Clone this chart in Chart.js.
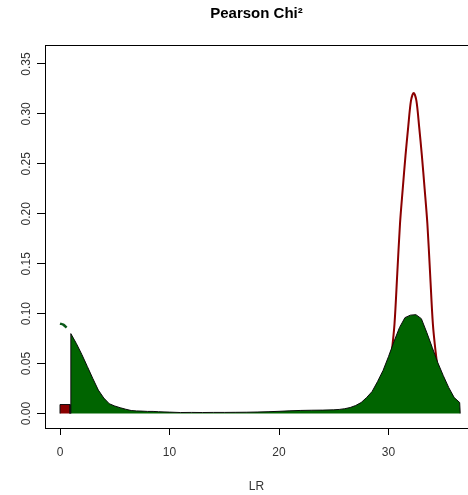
<!DOCTYPE html>
<html><head><meta charset="utf-8">
<script src="https://cdn.jsdelivr.net/npm/chart.js@4"></script>
<style>html,body{margin:0;padding:0;background:#fff;overflow:hidden}canvas{display:block}</style>
</head><body>
<canvas id="c" width="468" height="495"></canvas>
<script>
const chartTitle = 'Pearson Chi²';
const xAxisLabel = 'LR';
const xTickValues = [0, 10, 20, 30];
const xTickLabels = ['0', '10', '20', '30'];
const yTickValues = [0, 0.05, 0.10, 0.15, 0.20, 0.25, 0.30, 0.35];
const yTickLabels = ['0.00', '0.05', '0.10', '0.15', '0.20', '0.25', '0.30', '0.35'];

const greenX = [0.98, 0.99, 1.5, 2.0, 2.5, 3.0, 3.5, 4.0, 4.5, 5.0, 5.5, 6.0, 6.5, 7.0, 7.5, 8.0, 8.5, 9.0, 9.5, 10, 11, 12, 13, 14, 15, 16, 17, 18, 19, 20, 21, 22, 23, 24, 25, 25.5, 26, 26.5, 27, 27.5, 28, 28.5, 29, 29.5, 30, 30.5, 31, 31.5, 32, 32.5, 33, 33.5, 34, 34.5, 35, 35.5, 36, 36.5, 36.55];
const greenY = [0, 0.080, 0.070, 0.059, 0.047, 0.035, 0.0235, 0.0155, 0.0098, 0.0075, 0.0058, 0.0043, 0.0030, 0.0026, 0.0024, 0.0021, 0.0021, 0.0018, 0.0016, 0.0014, 0.0010, 0.0011, 0.0010, 0.0011, 0.0011, 0.0012, 0.0013, 0.0015, 0.0018, 0.0022, 0.0027, 0.0031, 0.0033, 0.0034, 0.0037, 0.0041, 0.0048, 0.0060, 0.0080, 0.011, 0.016, 0.022, 0.032, 0.043, 0.057, 0.072, 0.086, 0.096, 0.0985, 0.099, 0.095, 0.081, 0.066, 0.051, 0.038, 0.026, 0.016, 0.011, 0];

const redX = [28.8, 29.3, 29.55, 29.8, 30.05, 30.3, 30.55, 30.8, 31.05, 31.3, 31.55, 31.8, 32.05, 32.3, 32.55, 32.8, 33.05, 33.3, 33.55, 33.8, 34.05, 34.3, 34.55, 34.8, 35.05, 35.3, 35.8];
const redY = [0.002, 0.009, 0.016, 0.027, 0.041, 0.062, 0.090, 0.140, 0.190, 0.225, 0.258, 0.287, 0.313, 0.321, 0.313, 0.287, 0.258, 0.225, 0.190, 0.140, 0.090, 0.062, 0.041, 0.027, 0.016, 0.009, 0.002];

const dotX = [0.0, 0.3, 0.6];
const dotY = [0.090, 0.089, 0.086];

const squareX = [0, 0.001, 0.92, 0.921];
const squareY = [0, 0.009, 0.009, 0];

const pts = (xs, ys) => xs.map((x, i) => ({x: x, y: ys[i]}));
const FONT = "'Liberation Sans', Arial, Helvetica, sans-serif";

const boxAndLabels = {
  id: 'boxAndLabels',
  afterDraw(chart) {
    const ctx = chart.ctx, a = chart.chartArea, ys = chart.scales.y;
    ctx.save();
    ctx.strokeStyle = '#000';
    ctx.lineWidth = 1;
    ctx.beginPath();
    ctx.moveTo(a.left, Math.round(a.top) + 0.5);
    ctx.lineTo(a.right, Math.round(a.top) + 0.5);
    ctx.stroke();
    ctx.fillStyle = '#333';
    ctx.font = '12px ' + FONT;
    ctx.textAlign = 'center';
    ctx.textBaseline = 'alphabetic';
    yTickValues.forEach((v, i) => {
      const py = ys.getPixelForValue(v);
      ctx.save();
      ctx.translate(30, py);
      ctx.rotate(-Math.PI / 2);
      ctx.fillText(yTickLabels[i], 0, 0);
      ctx.restore();
    });
    ctx.restore();
  }
};

new Chart(document.getElementById('c'), {
  type: 'line',
  data: {
    datasets: [
      {data: pts(greenX, greenY), borderColor: '#0a0a0a', borderWidth: 1, backgroundColor: '#006400', fill: 'origin', pointRadius: 0, tension: 0},
      {data: pts(redX, redY), borderColor: '#8B0000', borderWidth: 2, fill: false, pointRadius: 0, tension: 0.3},
      {data: pts(dotX, dotY), borderColor: '#0b5a1a', borderWidth: 2.5, fill: false, pointRadius: 0, tension: 0.3},
      {data: pts(squareX, squareY), borderColor: '#111', borderWidth: 1, backgroundColor: '#8B0000', fill: 'origin', pointRadius: 0, tension: 0}
    ]
  },
  options: {
    responsive: false,
    animation: false,
    devicePixelRatio: 1,
    layout: {padding: 0},
    plugins: {
      legend: {display: false},
      tooltip: {enabled: false},
      filler: {propagate: false},
      title: {display: true, text: chartTitle, fullSize: false, color: '#000',
        font: {family: FONT, size: 15, weight: 'bold'}, padding: {top: 5, bottom: 22}}
    },
    scales: {
      x: {
        type: 'linear', min: -1.37, max: 37.26,
        afterBuildTicks: s => { s.ticks = xTickValues.map(v => ({value: v})); },
        afterFit: s => { s.height = 67; },
        ticks: {callback: (v, i) => xTickLabels[i], color: '#333', font: {family: FONT, size: 12}, padding: 10, maxRotation: 0},
        grid: {display: true, drawOnChartArea: false, drawTicks: true, tickLength: 7, color: '#000', lineWidth: 1},
        border: {display: true, color: '#000', width: 1},
        title: {display: true, text: xAxisLabel, color: '#333', font: {family: FONT, size: 12}, padding: {top: 0, bottom: 1}}
      },
      y: {
        type: 'linear', min: -0.0145, max: 0.369,
        afterBuildTicks: s => { s.ticks = yTickValues.map(v => ({value: v})); },
        afterFit: s => { s.width = 45; },
        ticks: {display: false},
        grid: {display: true, drawOnChartArea: false, drawTicks: true, tickLength: 8, color: '#000', lineWidth: 1},
        border: {display: true, color: '#000', width: 1}
      }
    }
  },
  plugins: [boxAndLabels]
});
</script>
</body></html>
